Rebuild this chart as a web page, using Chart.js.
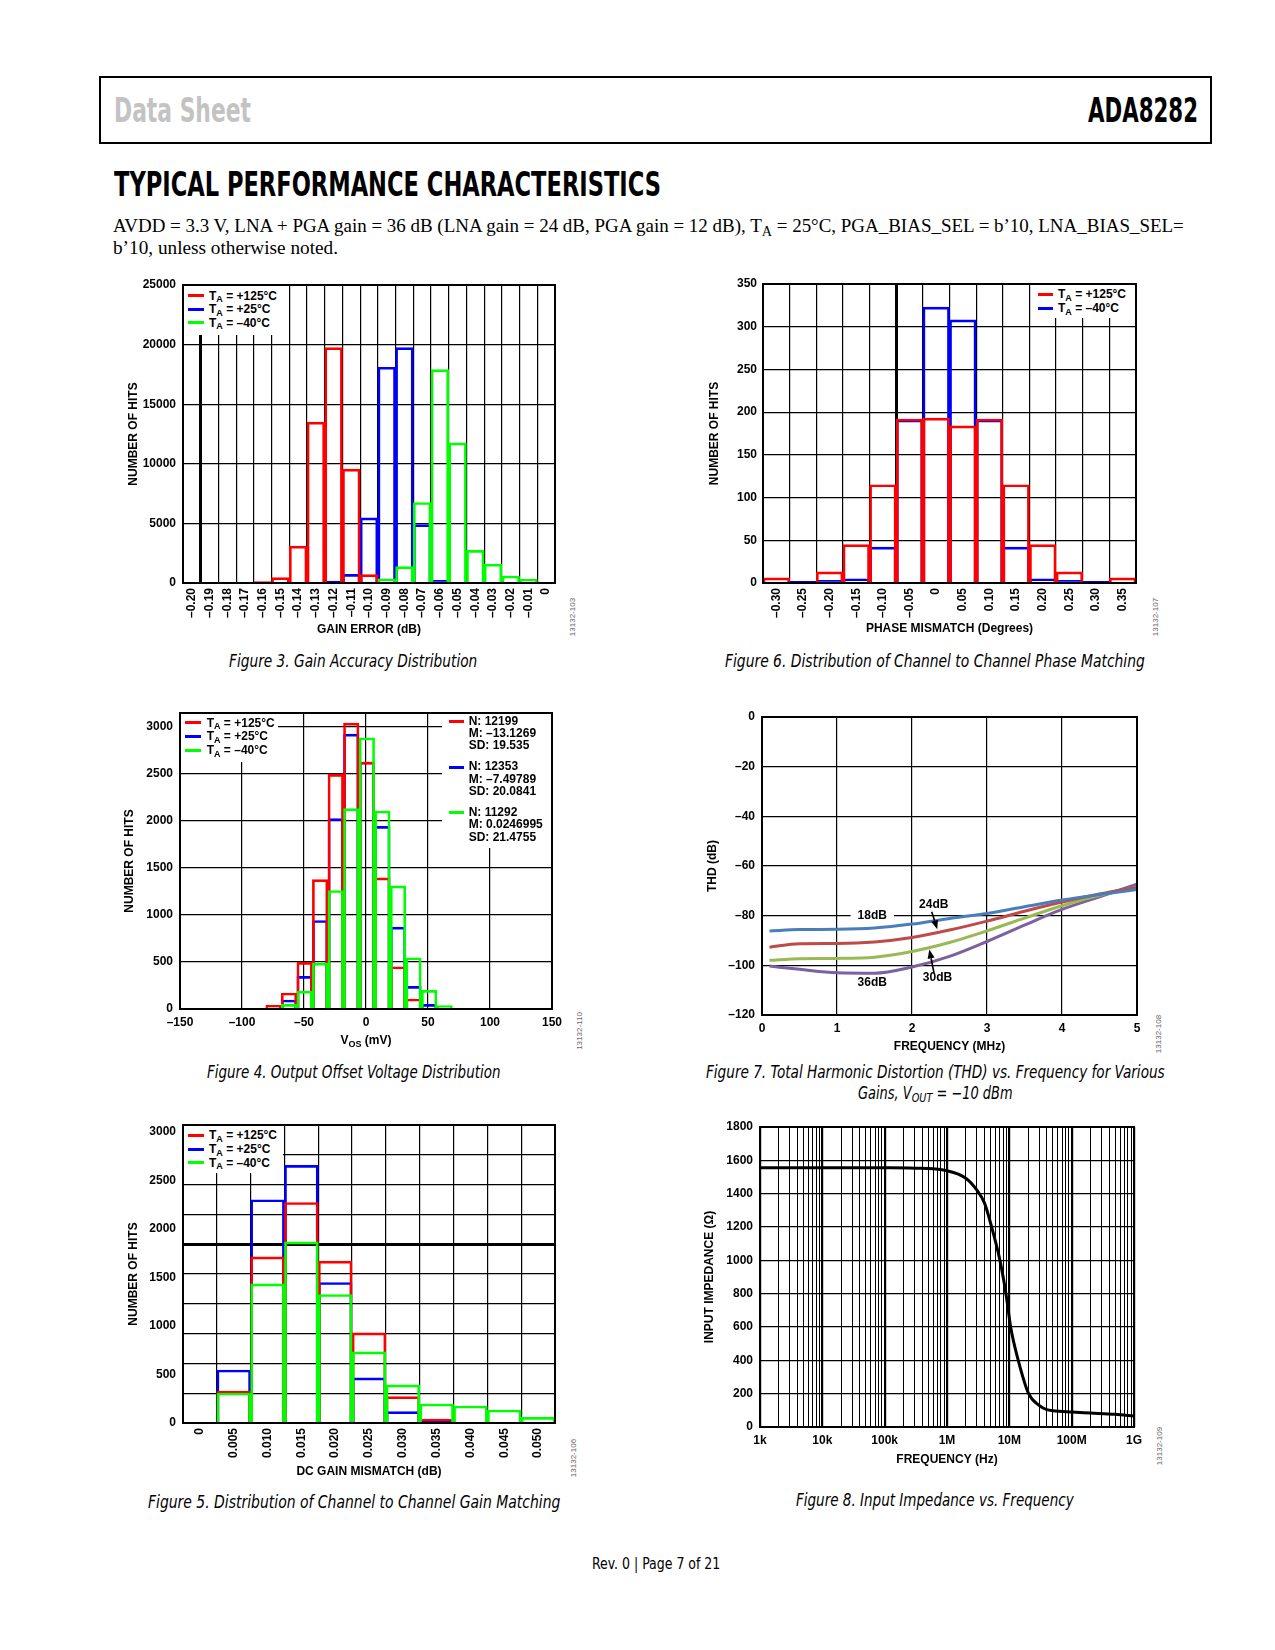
<!DOCTYPE html>
<html>
<head>
<meta charset="utf-8">
<title>ADA8282 Typical Performance Characteristics</title>
<script src="https://cdn.jsdelivr.net/npm/chart.js@4.4.1/dist/chart.umd.min.js"></script>
<style>
html,body{margin:0;padding:0;background:#fff;}
body{position:relative;width:1275px;height:1650px;overflow:hidden;font-family:"Liberation Sans",Arial,Helvetica,sans-serif;color:#000;}
.t{position:absolute;white-space:nowrap;line-height:1;transform-origin:0 0;}
.hdr{font-family:"Liberation Sans Narrow","DejaVu Sans Condensed","Liberation Sans",sans-serif;font-weight:bold;font-size:33.5px;}
.cap{font-family:"Liberation Sans Narrow","DejaVu Sans Condensed","Open Sans",sans-serif;font-style:italic;font-size:17px;}
.foot{font-family:"Liberation Sans Narrow","DejaVu Sans Condensed","Open Sans",sans-serif;font-size:15px;}
.para{font-family:"Liberation Serif","DejaVu Serif",serif;font-size:19px;}
.frame{position:absolute;border:2px solid #000;box-sizing:border-box;}
canvas{position:absolute;z-index:1;}
.leg{position:absolute;background:#fff;z-index:2;}
.row{position:absolute;white-space:nowrap;font-weight:bold;font-size:12px;line-height:1;z-index:3;}
.sw{position:absolute;height:3px;z-index:3;}
sub{font-size:75%;vertical-align:baseline;position:relative;top:0.3em;line-height:0;}
.id{position:absolute;font-size:8px;color:#666;white-space:nowrap;line-height:1;transform:translate(-50%,-50%) rotate(-90deg);}
.atitle{position:absolute;white-space:nowrap;font-weight:bold;font-size:12px;line-height:1;transform:translateX(-50%);z-index:3;}
</style>
</head>
<body>
<!-- Page header -->
<div class="frame" style="left:99px;top:76px;width:1113px;height:68px"></div>
<div class="t hdr" data-w="137" style="left:114px;top:94px;color:#c3c3c3">Data Sheet</div>
<div class="t hdr" data-w="110" style="left:1088px;top:94.3px">ADA8282</div>
<div class="t hdr" data-w="547" style="left:113.6px;top:167.6px">TYPICAL PERFORMANCE CHARACTERISTICS</div>
<div class="t para" data-w="1070.8" style="left:112.7px;top:215.8px">AVDD = 3.3 V, LNA + PGA gain = 36 dB (LNA gain = 24 dB, PGA gain = 12 dB), T<sub>A</sub> = 25°C, PGA_BIAS_SEL = b’10, LNA_BIAS_SEL=</div>
<div class="t para" data-w="225" style="left:112.7px;top:238.4px">b’10, unless otherwise noted.</div>

<!-- Figure 3 legend -->
<div class="leg" style="left:184px;top:286px;width:96px;height:49px"></div>
<div class="sw" style="left:188px;top:294.2px;width:16px;background:#ff0000"></div>
<div class="row" style="left:209px;top:289.7px">T<sub>A</sub> = +125°C</div>
<div class="sw" style="left:188px;top:307.5px;width:16px;background:#0000ff"></div>
<div class="row" style="left:209px;top:303px">T<sub>A</sub> = +25°C</div>
<div class="sw" style="left:188px;top:321.2px;width:16px;background:#00ff00"></div>
<div class="row" style="left:209px;top:316.7px">T<sub>A</sub> = –40°C</div>
<div class="id" style="left:573px;top:617px">13132-103</div>

<!-- Figure 6 legend -->
<div class="leg" style="left:1033px;top:285px;width:102px;height:33px"></div>
<div class="sw" style="left:1038px;top:292.8px;width:15px;background:#ff0000"></div>
<div class="row" style="left:1058px;top:288.3px">T<sub>A</sub> = +125°C</div>
<div class="sw" style="left:1038px;top:306.8px;width:15px;background:#0000ff"></div>
<div class="row" style="left:1058px;top:302.3px">T<sub>A</sub> = –40°C</div>
<div class="id" style="left:1156px;top:617px">13132-107</div>

<!-- Figure 4 legend + statistics -->
<div class="leg" style="left:181px;top:714px;width:97px;height:48px"></div>
<div class="sw" style="left:185px;top:721.2px;width:16px;background:#ff0000"></div>
<div class="row" style="left:206.7px;top:716.7px">T<sub>A</sub> = +125°C</div>
<div class="sw" style="left:185px;top:734.5px;width:16px;background:#0000ff"></div>
<div class="row" style="left:206.7px;top:730px">T<sub>A</sub> = +25°C</div>
<div class="sw" style="left:185px;top:748.5px;width:16px;background:#00ff00"></div>
<div class="row" style="left:206.7px;top:744px">T<sub>A</sub> = –40°C</div>
<div class="leg" style="left:442px;top:714px;width:109px;height:134px"></div>
<div class="sw" style="left:449px;top:720.2px;width:15px;background:#ff0000"></div>
<div class="row" style="left:468.7px;top:714.7px">N: 12199</div>
<div class="row" style="left:468.7px;top:727px">M: –13.1269</div>
<div class="row" style="left:468.7px;top:739px">SD: 19.535</div>
<div class="sw" style="left:449px;top:765.5px;width:15px;background:#0000ff"></div>
<div class="row" style="left:468.7px;top:760px">N: 12353</div>
<div class="row" style="left:468.7px;top:772.7px">M: –7.49789</div>
<div class="row" style="left:468.7px;top:785px">SD: 20.0841</div>
<div class="sw" style="left:449px;top:811.2px;width:15px;background:#00ff00"></div>
<div class="row" style="left:468.7px;top:806px">N: 11292</div>
<div class="row" style="left:468.7px;top:818.3px">M: 0.0246995</div>
<div class="row" style="left:468.7px;top:830.7px">SD: 21.4755</div>
<div class="atitle" style="left:366px;top:1034px">V<sub>OS</sub> (mV)</div>
<div class="id" style="left:580px;top:1031px">13132-110</div>

<!-- Figure 7 id -->
<div class="id" style="left:1159px;top:1034px">13132-108</div>

<!-- Figure 5 legend -->
<div class="leg" style="left:184px;top:1126px;width:99px;height:47px"></div>
<div class="sw" style="left:188px;top:1133.5px;width:16px;background:#ff0000"></div>
<div class="row" style="left:209px;top:1129px">T<sub>A</sub> = +125°C</div>
<div class="sw" style="left:188px;top:1147.8px;width:16px;background:#0000ff"></div>
<div class="row" style="left:209px;top:1143.3px">T<sub>A</sub> = +25°C</div>
<div class="sw" style="left:188px;top:1161.2px;width:16px;background:#00ff00"></div>
<div class="row" style="left:209px;top:1156.7px">T<sub>A</sub> = –40°C</div>
<div class="id" style="left:574px;top:1458px">13132-106</div>

<!-- Figure 8 id -->
<div class="id" style="left:1160px;top:1446px">13132-109</div>

<!-- Captions -->
<div class="t cap" data-w="248.3" style="left:229.3px;top:653px">Figure 3. Gain Accuracy Distribution</div>
<div class="t cap" data-w="419.8" style="left:724.8px;top:653px">Figure 6. Distribution of Channel to Channel Phase Matching</div>
<div class="t cap" data-w="293.5" style="left:207.2px;top:1064px">Figure 4. Output Offset Voltage Distribution</div>
<div class="t cap" data-w="458.7" style="left:705.9px;top:1064px">Figure 7. Total Harmonic Distortion (THD) vs. Frequency for Various</div>
<div class="t cap" data-w="154.6" style="left:858.4px;top:1084.5px">Gains, V<sub>OUT</sub> = −10 dBm</div>
<div class="t cap" data-w="412.4" style="left:148.3px;top:1494px">Figure 5. Distribution of Channel to Channel Gain Matching</div>
<div class="t cap" data-w="277.7" style="left:796.4px;top:1492px">Figure 8. Input Impedance vs. Frequency</div>
<div class="t foot" data-w="128.3" style="left:592.3px;top:1557px">Rev. 0 | Page 7 of 21</div>

<script>
// ================= DATA =================
// Figure 3 – Gain accuracy distribution (number of hits per gain-error bin)
const gainErrorBins = ['–0.20','–0.19','–0.18','–0.17','–0.16','–0.15','–0.14','–0.13','–0.12','–0.11','–0.10','–0.09','–0.08','–0.07','–0.06','–0.05','–0.04','–0.03','–0.02','–0.01','0'];
const gainErrHits125 = [null,null,null,null,110,450,3100,13500,19750,9550,700,null,null,null,null,null,null,null,null,null,null];
const gainErrHits25  = [null,null,null,null,null,null,null,null,170,730,5460,18100,19750,4900,220,null,null,null,null,null,null];
const gainErrHitsM40 = [null,null,null,null,null,null,null,null,null,null,80,340,1370,6750,17900,11750,2740,1570,590,310,null];
const gainErrHitTicks = [0,5000,10000,15000,20000,25000];

// Figure 6 – Channel-to-channel phase matching
const phaseBins = ['–0.30','–0.25','–0.20','–0.15','–0.10','–0.05','0','0.05','0.10','0.15','0.20','0.25','0.30','0.35'];
const phaseHits125 = [6,null,13,45,115,192,193,184,192,115,45,13,null,6];
const phaseHitsM40 = [null,2,3,5,42,191,323,308,191,42,5,3,2,null];
const phaseHitTicks = [0,50,100,150,200,250,300,350];

// Figure 4 – Output offset voltage distribution (bin centres in mV)
const vosBinCenters = [-74.6,-62.1,-49.5,-37.0,-24.4,-11.9,0.7,13.2,25.8,38.3,50.9,63.4,76.0];
const vosHits125 = [39,170,494,1373,2489,3032,2619,1391,448,106,null,null,null];
const vosHits25  = [null,95,346,939,2019,2916,2620,1938,868,240,49,null,null];
const vosHitsM40 = [10,49,190,487,1257,2125,2877,2100,1306,544,198,35,7];
const vosTicks = [-150,-100,-50,0,50,100,150];
const vosHitTicks = [0,500,1000,1500,2000,2500,3000];

// Figure 5 – Channel-to-channel DC gain matching
const dcGainBins = ['0','0.005','0.010','0.015','0.020','0.025','0.030','0.035','0.040','0.045','0.050'];
const dcGainHits125 = [null,330,1711,2271,1667,928,271,41,null,null,null];
const dcGainHits25  = [null,546,2299,2653,1447,464,117,27,null,null,null];
const dcGainHitsM40 = [null,309,1433,1866,1323,732,392,196,175,134,58];
const dcGainHitTicks = [0,500,1000,1500,2000,2500,3000];

// Figure 7 – THD vs frequency for various gains
const thdFreqMHz = [0.1,0.5,1,1.5,2,2.5,3,3.5,4,4.5,5];
const thd18dB = [-86.2,-85.6,-85.5,-85.0,-83.4,-81.1,-79.1,-76.4,-73.7,-71.5,-69.5];
const thd24dB = [-92.7,-91.3,-91.2,-90.6,-88.8,-85.8,-82.2,-78.2,-74.5,-71.3,-68.6];
const thd30dB = [-98.0,-97.3,-97.2,-96.7,-94.4,-90.8,-86.1,-81.0,-76.0,-71.8,-68.6];
const thd36dB = [-100.3,-101.6,-103.0,-103.2,-100.7,-96.4,-90.4,-83.8,-77.5,-72.4,-67.3];
const thdNoteText = ['18dB','24dB','30dB','36dB'];
const thdNoteX = [1.47,2.29,2.34,1.47];
const thdNoteY = [-80,-75.7,-105,-107];
const thdNoteClear = [true,false,false,false];
const thdArrowFrom = [[2.263,-78.4],[2.293,-103]];
const thdArrowTo   = [[2.337,-85.5],[2.231,-93.6]];

// Figure 8 – Input impedance vs frequency
const zinFreqHz = [1e3,1e4,1e5,3e5,1e6,2e6,3e6,4e6,5.2e6,7.07e6,8.83e6,1.05e7,1.39e7,2.04e7,3e7,4e7,5e7,1e8,2e8,5e8,1e9];
const zinOhms   = [1556,1556,1555,1553,1537,1493,1423,1343,1200,1000,800,600,400,200,130,104,98,90,84,76,66];
const zinDecades = [1e3,1e4,1e5,1e6,1e7,1e8,1e9];
const zinDecadeLabels = ['1k','10k','100k','1M','10M','100M','1G'];

// ================= LAYOUT =================
const TP = 12, RP = 12;
const F3 = {l:183, t:285, r:555, b:583, yw:57, xh:54};
const F6 = {l:763, t:284, r:1136, b:583, yw:56, xh:53};
const F4 = {l:180, t:713, r:552, b:1009, yw:58, xh:45};
const F7 = {l:762, t:717, r:1137, b:1015, yw:57, xh:39};
const F5 = {l:183, t:1125, r:555, b:1423, yw:57, xh:56};
const F8 = {l:760, t:1127, r:1134, b:1427, yw:58, xh:40};

const RED = '#ff0000', BLUE = '#0000ff', GREEN = '#00ff00';

Chart.defaults.font.family = '"Liberation Sans", Arial, Helvetica, sans-serif';
Chart.defaults.font.size = 12;
Chart.defaults.font.weight = 'bold';
Chart.defaults.color = '#000';
Chart.defaults.animation = false;
Chart.defaults.events = [];
Chart.defaults.plugins.legend.display = false;
Chart.defaults.plugins.tooltip.enabled = false;

const framePlugin = {
  id: 'frame',
  afterDraw(chart) {
    const {ctx, chartArea: a} = chart;
    ctx.save();
    ctx.strokeStyle = '#000';
    ctx.lineWidth = 2;
    ctx.strokeRect(a.left, a.top, a.right - a.left, a.bottom - a.top);
    ctx.restore();
  }
};
Chart.register(framePlugin);

const fixW = w => s => { s.width = w; s.paddingTop = 0; s.paddingBottom = 0; };
const fixH = h => s => { s.height = h; s.paddingLeft = 0; s.paddingRight = 0; };
const useTicks = arr => s => { s.ticks = arr.map(v => ({value: v})); };
const grid = (extra) => Object.assign({color:'#000', lineWidth:1.2, drawTicks:false}, extra || {});
const noBorder = {display:false};
const plain = v => String(v);
const dash = v => (v < 0 ? '–' + Math.abs(v) : String(v));

function makeChart(box, config) {
  const cv = document.createElement('canvas');
  const w = box.r - box.l + box.yw + RP, h = box.b - box.t + TP + box.xh;
  cv.width = w; cv.height = h;
  cv.style.left = (box.l - box.yw) + 'px';
  cv.style.top = (box.t - TP) + 'px';
  cv.style.width = w + 'px';
  cv.style.height = h + 'px';
  document.body.appendChild(cv);
  config.options.responsive = false;
  config.options.devicePixelRatio = 1;
  config.options.layout = {padding: {top: TP, right: RP, left: 0, bottom: 0}};
  return new Chart(cv, config);
}

function histSet(data, color, order) {
  return {data, borderColor: color, backgroundColor: 'rgba(0,0,0,0)', borderWidth: 2,
          grouped: false, categoryPercentage: 1, barPercentage: 1, order};
}

function categoryX(box, title, thickIdx) {
  return {
    type: 'category', offset: true,
    grid: grid({offset: true, lineWidth: c => (c.index === thickIdx ? 3 : 1.2)}),
    border: noBorder,
    ticks: {autoSkip: false, maxRotation: 90, minRotation: 90, padding: 5},
    title: {display: true, text: title, padding: 0},
    afterFit: fixH(box.xh)
  };
}

function hitsY(box, min, max, tickArr, pad) {
  return {min, max, afterBuildTicks: useTicks(tickArr), ticks: {padding: pad || 7, callback: plain},
          grid: grid(), border: noBorder,
          title: {display: true, text: 'NUMBER OF HITS', padding: 0}, afterFit: fixW(box.yw)};
}

// ---------- Figure 3 ----------
makeChart(F3, {
  type: 'bar',
  data: {labels: gainErrorBins, datasets: [
    histSet(gainErrHits125, RED, 1),
    histSet(gainErrHits25, BLUE, 2),
    histSet(gainErrHitsM40, GREEN, 0)
  ]},
  options: {scales: {
    x: categoryX(F3, 'GAIN ERROR (dB)', 1),
    y: hitsY(F3, 0, 25000, gainErrHitTicks, 7)
  }}
});

// ---------- Figure 6 ----------
makeChart(F6, {
  type: 'bar',
  data: {labels: phaseBins, datasets: [
    histSet(phaseHits125, RED, 0),
    histSet(phaseHitsM40, BLUE, 1)
  ]},
  options: {scales: {
    x: categoryX(F6, 'PHASE MISMATCH (Degrees)', 5),
    y: hitsY(F6, 0, 350, phaseHitTicks, 6)
  }}
});

// ---------- Figure 4 ----------
const xy = (xs, ys) => xs.map((x, i) => ({x, y: ys[i]}));
makeChart(F4, {
  type: 'bar',
  data: {datasets: [
    histSet(xy(vosBinCenters, vosHits125), RED, 1),
    histSet(xy(vosBinCenters, vosHits25), BLUE, 2),
    histSet(xy(vosBinCenters, vosHitsM40), GREEN, 0)
  ]},
  options: {scales: {
    x: {type: 'linear', min: -150, max: 150, offset: false, grid: grid({offset: false}), border: noBorder,
        afterBuildTicks: useTicks(vosTicks),
        ticks: {padding: 6, maxRotation: 0, callback: dash}, afterFit: fixH(F4.xh)},
    y: hitsY(F4, 0, 3140, vosHitTicks, 7)
  }}
});

// ---------- Figure 7 ----------
const thdNotesPlugin = {
  id: 'thdNotes',
  afterDatasetsDraw(chart) {
    const {ctx, scales: {x, y}} = chart;
    ctx.save();
    ctx.font = 'bold 12px "Liberation Sans", Arial, sans-serif';
    ctx.textAlign = 'center';
    ctx.textBaseline = 'middle';
    thdNoteText.forEach((txt, i) => {
      const px = x.getPixelForValue(thdNoteX[i]), py = y.getPixelForValue(thdNoteY[i]);
      if (thdNoteClear[i]) {
        const w = ctx.measureText(txt).width + 14;
        ctx.fillStyle = '#fff';
        ctx.fillRect(px - w / 2, py - 6, w, 12);
      }
      ctx.fillStyle = '#000';
      ctx.fillText(txt, px, py);
    });
    ctx.strokeStyle = '#000';
    ctx.fillStyle = '#000';
    ctx.lineWidth = 1.6;
    thdArrowFrom.forEach((f, i) => {
      const t = thdArrowTo[i];
      const x0 = x.getPixelForValue(f[0]), y0 = y.getPixelForValue(f[1]);
      const x1 = x.getPixelForValue(t[0]), y1 = y.getPixelForValue(t[1]);
      const ang = Math.atan2(y1 - y0, x1 - x0);
      const hl = 9, hw = 3.5;
      const bx = x1 - hl * Math.cos(ang), by = y1 - hl * Math.sin(ang);
      ctx.beginPath(); ctx.moveTo(x0, y0); ctx.lineTo(bx, by); ctx.stroke();
      ctx.beginPath();
      ctx.moveTo(x1, y1);
      ctx.lineTo(bx + hw * Math.sin(ang), by - hw * Math.cos(ang));
      ctx.lineTo(bx - hw * Math.sin(ang), by + hw * Math.cos(ang));
      ctx.closePath(); ctx.fill();
    });
    ctx.restore();
  }
};
const thdLine = (ys, color) => ({data: xy(thdFreqMHz, ys), borderColor: color, borderWidth: 3,
  pointRadius: 0, fill: false, cubicInterpolationMode: 'monotone'});
makeChart(F7, {
  type: 'line',
  data: {datasets: [
    thdLine(thd18dB, '#4a7ebb'),
    thdLine(thd24dB, '#be4b48'),
    thdLine(thd30dB, '#98b954'),
    thdLine(thd36dB, '#7d60a0')
  ]},
  options: {scales: {
    x: {type: 'linear', min: 0, max: 5, grid: grid(), border: noBorder,
        ticks: {stepSize: 1, padding: 6, maxRotation: 0, callback: plain},
        title: {display: true, text: 'FREQUENCY (MHz)', padding: 0}, afterFit: fixH(F7.xh)},
    y: {min: -120, max: 0, ticks: {stepSize: 20, padding: 7, callback: dash}, grid: grid(), border: noBorder,
        title: {display: true, text: 'THD (dB)', padding: 0}, afterFit: fixW(F7.yw)}
  }},
  plugins: [thdNotesPlugin]
});

// ---------- Figure 5 ----------
const f5y = hitsY(F5, 0, 3069, dcGainHitTicks, 7);
f5y.grid = {display: false, drawTicks: false};
makeChart(F5, {
  type: 'bar',
  data: {labels: dcGainBins, datasets: [
    histSet(dcGainHits125, RED, 1),
    histSet(dcGainHits25, BLUE, 2),
    histSet(dcGainHitsM40, GREEN, 0)
  ]},
  options: {scales: {
    x: categoryX(F5, 'DC GAIN MISMATCH (dB)', -1),
    y: f5y,
    yGrid: {position: 'left', min: 0, max: 10, ticks: {display: false, stepSize: 1},
        grid: grid({lineWidth: c => (c.index === 6 ? 3 : 1.2)}), border: noBorder,
        afterFit: s => { s.width = 0; s.paddingTop = 0; s.paddingBottom = 0; }}
  }}
});

// ---------- Figure 8 ----------
makeChart(F8, {
  type: 'line',
  data: {datasets: [{data: xy(zinFreqHz, zinOhms), borderColor: '#000', borderWidth: 3,
    pointRadius: 0, fill: false, cubicInterpolationMode: 'monotone'}]},
  options: {scales: {
    x: {type: 'logarithmic', min: 1e3, max: 1e9, border: noBorder,
        grid: grid({lineWidth: c => (c.tick && zinDecades.includes(c.tick.value) ? 2.2 : 1)}),
        afterBuildTicks: s => {
          const t = [];
          zinDecades.forEach((d, i) => {
            if (i === zinDecades.length - 1) { t.push({value: d}); return; }
            for (let m = 1; m <= 9; m++) t.push({value: d * m});
          });
          s.ticks = t;
        },
        ticks: {autoSkip: false, maxRotation: 0, padding: 6,
          callback: v => { const i = zinDecades.indexOf(v); return i >= 0 ? zinDecadeLabels[i] : ''; }},
        title: {display: true, text: 'FREQUENCY (Hz)', padding: 0}, afterFit: fixH(F8.xh)},
    y: {min: 0, max: 1800, ticks: {stepSize: 200, padding: 7, callback: plain}, grid: grid(), border: noBorder,
        title: {display: true, text: 'INPUT IMPEDANCE (Ω)', padding: 0}, afterFit: fixW(F8.yw)}
  }}
});

// ---------- fit text widths ----------
function fitText() {
  document.querySelectorAll('[data-w]').forEach(el => {
    el.style.transform = 'none';
    const nat = el.getBoundingClientRect().width;
    const target = parseFloat(el.dataset.w);
    if (nat > 0) el.style.transform = 'scaleX(' + (target / nat) + ')';
  });
}
fitText();
if (document.fonts && document.fonts.ready) document.fonts.ready.then(fitText);
</script>
</body>
</html>
